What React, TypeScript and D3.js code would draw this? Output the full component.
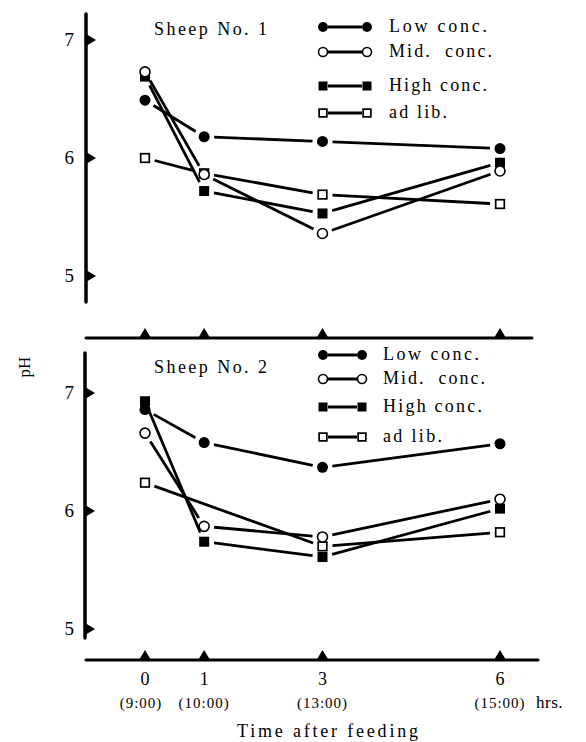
import { useRef, useEffect } from 'react';
import * as d3 from 'd3';

// hours after feeding and their labels
const hours = [0, 1, 3, 6];
const hourLabels = ['0', '1', '3', '6'];
const clockLabels = ['(9:00)', '(10:00)', '(13:00)', '(15:00)'];
const phTicks = [5, 6, 7];

// rumen pH, sheep No. 1
const sheep1Low = [6.49, 6.18, 6.14, 6.08];
const sheep1Mid = [6.73, 5.86, 5.36, 5.89];
const sheep1High = [6.69, 5.72, 5.53, 5.96];
const sheep1AdLib = [6.0, 5.87, 5.69, 5.61];

// rumen pH, sheep No. 2 (ad lib has no 1 hr reading)
const sheep2Low = [6.86, 6.58, 6.37, 6.57];
const sheep2Mid = [6.66, 5.87, 5.78, 6.1];
const sheep2High = [6.93, 5.74, 5.61, 6.02];
const sheep2AdLib = [6.24, null, 5.7, 5.82];

const seriesNames = ['Low conc.', 'Mid.\u00a0\u00a0conc.', 'High conc.', 'ad lib.'];
const seriesMarkers = ['fcircle', 'ocircle', 'fsquare', 'osquare'];

const FONT = '"Liberation Serif", "DejaVu Serif", serif';

const drawMarker = (g, kind, x, y, s = 1) => {
  if (kind === 'fcircle') {
    g.append('circle').attr('cx', x).attr('cy', y).attr('r', 5.5 * s).attr('fill', '#000');
  } else if (kind === 'ocircle') {
    g.append('circle').attr('cx', x).attr('cy', y).attr('r', 5 * s)
      .attr('fill', '#fff').attr('stroke', '#000').attr('stroke-width', 1.6);
  } else if (kind === 'fsquare') {
    const h = 5 * s;
    g.append('rect').attr('x', x - h).attr('y', y - h).attr('width', 2 * h).attr('height', 2 * h).attr('fill', '#000');
  } else {
    const h = 4.3 * s;
    g.append('rect').attr('x', x - h).attr('y', y - h).attr('width', 2 * h).attr('height', 2 * h)
      .attr('fill', '#fff').attr('stroke', '#000').attr('stroke-width', 1.7);
  }
};

const App = () => {
  const svgRef = useRef(null);

  useEffect(() => {
    if (!svgRef.current) return;
    const svg = d3.select(svgRef.current);
    svg.selectAll('*').remove();

    const x = d3.scaleLinear().domain([0, 6]).range([145, 500]);

    const panels = [
      {
        title: 'Sheep No. 1', titleY: 35,
        series: [sheep1Low, sheep1Mid, sheep1High, sheep1AdLib],
        y: d3.scaleLinear().domain([5, 7]).range([276, 40]),
        axisX: 86, axisTop: 14, axisBottom: 302, baseY: 338, baseRight: 532,
        legend: { m1: 323, m2: 367, tx: 389, rows: [27, 52, 86, 113], widths: [98, 103, 98, 58] },
      },
      {
        title: 'Sheep No. 2', titleY: 373,
        series: [sheep2Low, sheep2Mid, sheep2High, sheep2AdLib],
        y: d3.scaleLinear().domain([5, 7]).range([629, 393]),
        axisX: 85, axisTop: 353, axisBottom: 638, baseY: 660, baseRight: 538,
        legend: { m1: 323, m2: 362, tx: 383, rows: [355, 379, 407, 437], widths: [96, 102, 99, 59] },
      },
    ];

    panels.forEach(p => {
      const g = svg.append('g');

      // vertical pH axis
      g.append('line')
        .attr('x1', p.axisX).attr('x2', p.axisX)
        .attr('y1', p.axisTop).attr('y2', p.axisBottom)
        .attr('stroke', '#000').attr('stroke-width', 3.5).attr('stroke-linecap', 'round');

      phTicks.forEach(t => {
        const ty = p.y(t);
        g.append('path')
          .attr('d', `M${p.axisX},${ty - 6}L${p.axisX + 10},${ty}L${p.axisX},${ty + 6}Z`)
          .attr('fill', '#000');
        g.append('text')
          .attr('x', 74).attr('y', ty + 6)
          .attr('text-anchor', 'end')
          .attr('font-family', FONT).attr('font-size', 19)
          .text(t);
      });

      // horizontal time axis
      g.append('line')
        .attr('x1', 86).attr('x2', p.baseRight)
        .attr('y1', p.baseY).attr('y2', p.baseY)
        .attr('stroke', '#000').attr('stroke-width', 3).attr('stroke-linecap', 'round');

      hours.forEach(h => {
        const hx = x(h);
        g.append('path')
          .attr('d', `M${hx - 6},${p.baseY}L${hx},${p.baseY - 10}L${hx + 6},${p.baseY}Z`)
          .attr('fill', '#000');
      });

      g.append('text')
        .attr('x', 154).attr('y', p.titleY)
        .attr('font-family', FONT).attr('font-size', 18)
        .attr('textLength', 113).attr('lengthAdjust', 'spacing')
        .text(p.title);

      // connecting lines, stopping short of the markers
      const gap = 10;
      p.series.forEach(vals => {
        const pts = hours
          .map((h, i) => (vals[i] == null ? null : [x(h), p.y(vals[i])]))
          .filter(d => d !== null);
        d3.pairs(pts).forEach(([a, b]) => {
          const dx = b[0] - a[0], dy = b[1] - a[1];
          const len = Math.hypot(dx, dy);
          const ux = dx / len, uy = dy / len;
          g.append('line')
            .attr('x1', a[0] + ux * gap).attr('y1', a[1] + uy * gap)
            .attr('x2', b[0] - ux * gap).attr('y2', b[1] - uy * gap)
            .attr('stroke', '#000').attr('stroke-width', 2.8);
        });
      });

      // markers: ad lib first so the others sit over it
      [3, 2, 1, 0].forEach(si => {
        const vals = p.series[si];
        hours.forEach((h, i) => {
          if (vals[i] == null) return;
          drawMarker(g, seriesMarkers[si], x(h), p.y(vals[i]));
        });
      });

      // legend
      const L = p.legend;
      seriesNames.forEach((name, si) => {
        const ry = L.rows[si];
        g.append('line')
          .attr('x1', L.m1 + 5).attr('x2', L.m2 - 5)
          .attr('y1', ry).attr('y2', ry)
          .attr('stroke', '#000').attr('stroke-width', 3);
        drawMarker(g, seriesMarkers[si], L.m1, ry, 0.9);
        drawMarker(g, seriesMarkers[si], L.m2, ry, 0.9);
        g.append('text')
          .attr('x', L.tx).attr('y', ry + 5)
          .attr('font-family', FONT).attr('font-size', 18)
          .attr('textLength', L.widths[si]).attr('lengthAdjust', 'spacing')
          .text(name);
      });
    });

    // pH label
    svg.append('text')
      .attr('transform', 'translate(30,367) rotate(-90)')
      .attr('text-anchor', 'middle')
      .attr('font-family', FONT).attr('font-size', 17)
      .text('pH');

    // x labels
    hours.forEach((h, i) => {
      svg.append('text')
        .attr('x', x(h)).attr('y', 685)
        .attr('text-anchor', 'middle')
        .attr('font-family', FONT).attr('font-size', 18)
        .text(hourLabels[i]);
      svg.append('text')
        .attr('x', x(h) - (i === 0 ? 4 : 0)).attr('y', 708)
        .attr('text-anchor', 'middle')
        .attr('font-family', FONT).attr('font-size', 15)
        .attr('letter-spacing', 1)
        .text(clockLabels[i]);
    });
    svg.append('text')
      .attr('x', 536).attr('y', 708)
      .attr('font-family', FONT).attr('font-size', 17)
      .attr('letter-spacing', 0.5)
      .text('hrs.');

    svg.append('text')
      .attr('x', 237).attr('y', 737)
      .attr('font-family', FONT).attr('font-size', 18)
      .attr('textLength', 181).attr('lengthAdjust', 'spacing')
      .text('Time after feeding');
  }, []);

  return (
    <svg
      ref={svgRef}
      width={586}
      height={742}
      style={{ position: 'absolute', left: 0, top: 0, background: '#fff' }}
    />
  );
};

export default App;
